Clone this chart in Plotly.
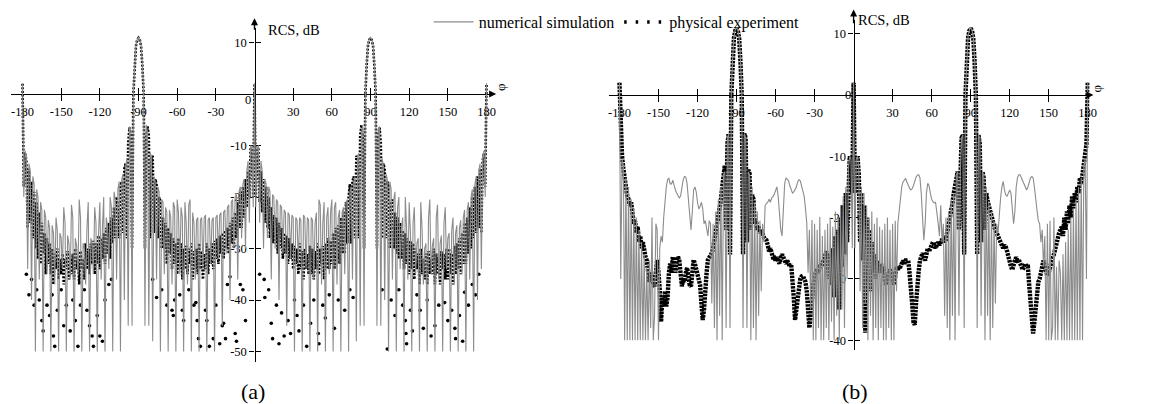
import plotly.graph_objects as go

W, H = 1154, 404

# ---------------------------------------------------------------- data
# azimuth grid, degrees (one sample per degree)
phi = list(range(-180, 181))

# (a) numerical simulation, dB
sim_a_db = [
    2.1, -20, -11, -12.5, -34, -13.5, -15, -40, -16, -17.5,           # -180
    -50, -18.5, -20, -36, -21, -22.5, -50, -22.5, -24, -35,           # -170
    -24.5, -26, -50, -25.5, -27, -37, -24, -26.5, -50, -27,           # -160
    -28, -34, -22, -25, -50, -27.5, -29, -36, -21.5, -24,             # -150
    -50, -28, -29.5, -35, -20.5, -24, -50, -29, -30, -37,             # -140
    -26, -21, -50, -28, -29, -35, -22, -25, -50, -27,                 # -130
    -21, -36, -26, -20, -50, -24, -26, -34, -20, -22,                 # -120
    -50, -19, -20.5, -36, -18.5, -17, -50, -16.5, -15.5, -40,         # -110
    -14, -12.5, -45, -6.3, -7, -45, 0.5, 6, 9.5, 10.6,                # -100
    11, 10.6, 9.5, 6, 0.5, -45, -6, -7.5, -45, -11.5,                 # -90
    -12, -48, -16, -17, -36, -18, -19, -50, -20.5, -21,               # -80
    -35, -22, -23, -50, -22.5, -24, -37, -21, -22, -50,               # -70
    -20.5, -23, -35, -22, -24, -50, -21, -25, -37, -21.5,             # -60
    -20.5, -50, -23, -25, -36, -24.5, -24, -50, -24.5, -24,           # -50
    -34, -24, -23.5, -50, -24.5, -24, -33, -24.5, -24, -50,           # -40
    -24, -23.5, -32, -23.5, -23, -45, -23, -22.5, -31, -22,           # -30
    -21.5, -40, -21, -20.5, -30, -20, -19.5, -36, -19, -18,           # -20
    -28, -17.5, -16.5, -30, -15, -13, -25, -10, -10.5, -22,           # -10
    2.1, -22, -10.5, -10, -25, -13, -15, -30, -16.5, -17.5,           # 0
    -28, -18, -19, -36, -19.5, -20, -30, -20.5, -21, -40,             # 10
    -21.5, -22, -31, -22.5, -23, -45, -23, -23.5, -32, -23.5,         # 20
    -24, -50, -24, -24.5, -33, -24, -24.5, -50, -23.5, -24,           # 30
    -34, -24, -24.5, -50, -24, -24.5, -36, -25, -23, -50,             # 40
    -20.5, -21.5, -37, -25, -21, -50, -24, -22, -35, -23,             # 50
    -20.5, -50, -22, -21, -37, -24, -22.5, -50, -23, -22,             # 60
    -35, -21, -20.5, -50, -19, -18, -36, -17, -16, -48,               # 70
    -12, -11.5, -45, -7.5, -6, -45, 0.5, 6, 9.5, 10.6,                # 80
    11, 10.6, 9.5, 6, 0.5, -45, -7, -6.3, -45, -12.5,                 # 90
    -14, -40, -15.5, -16.5, -50, -17, -18.5, -36, -20.5, -19,         # 100
    -50, -22, -20, -34, -26, -24, -50, -20, -26, -36,                 # 110
    -21, -27, -50, -25, -22, -35, -29, -28, -50, -21,                 # 120
    -26, -37, -30, -29, -50, -24, -20.5, -35, -29.5, -28,             # 130
    -50, -24, -21.5, -36, -29, -27.5, -50, -25, -22, -34,             # 140
    -28, -27, -50, -26.5, -24, -37, -27, -25.5, -50, -26,             # 150
    -24.5, -35, -24, -22.5, -50, -22.5, -21, -36, -20, -18.5,         # 160
    -50, -17.5, -16, -40, -15, -13.5, -34, -12.5, -11, -20,           # 170
    2.1,                                                              # 180
]

# (a) physical experiment, dB (main trace of the measured series)
exp_a_db = [
    2.0, -18, -11.5, -13, -26, -14.5, -25, -17, -28, -19,             # -180
    -30, -21, -32, -23, -33, -25, -31, -27, -35, -28,                 # -170
    -33, -29, -35, -30, -37, -31, -34, -30, -36, -32,                 # -160
    -35, -31, -37, -32, -34, -30.5, -36, -32, -35, -31,               # -150
    -36, -30, -34, -32, -37, -30.5, -34, -32, -36, -29,               # -140
    -34, -30, -35, -29, -33, -28.5, -35, -29, -33, -27.5,             # -130
    -34, -28, -32, -27, -33, -26, -31, -25, -32, -24,                 # -120
    -29, -22, -28, -20, -22, -28, -18, -17, -27, -14.5,               # -110
    -13.5, -28, -9.5, -6.5, -8.5, -30, 0, 5.5, 9.3, 10.5,             # -100
    10.9, 10.5, 9.3, 5.5, 0, -30, -8.5, -6.3, -8, -28,                # -90
    -12.5, -12, -27, -16.5, -17.5, -28, -20, -21, -30, -24,           # -80
    -30, -25, -33, -26, -31, -27, -34, -28, -33, -29,                 # -70
    -35, -28, -34, -29, -36, -30, -34, -29.5, -35, -30,               # -60
    -33, -29, -36, -30.5, -34, -30, -35, -29, -34, -30.5,             # -50
    -36, -31, -34, -29, -35, -30, -33, -29, -34, -28.5,               # -40
    -32, -28, -33, -27.5, -31, -27, -32, -26.5, -30, -26,             # -30
    -31, -25, -29, -24, -30, -23, -28, -21, -26, -19,                 # -20
    -26, -18, -24, -16.5, -22, -15, -20, -10.5, -11, -20,             # -10
    2.0, -20, -11, -10.5, -21, -15, -23, -16.5, -25, -18,             # 0
    -26, -20, -28, -22, -29, -23.5, -29, -24, -31, -25,               # 10
    -30, -26, -32, -27, -31, -27.5, -33, -28, -32, -29,               # 20
    -34, -29.5, -33, -30, -35, -29, -34, -30.5, -36, -30,             # 30
    -34, -31, -35, -29.5, -35, -30, -36, -30.5, -34, -29,             # 40
    -35, -30, -33, -29.5, -36, -29, -34, -28, -34, -28.5,             # 50
    -33, -27, -34, -26, -32, -25.5, -33, -24, -31, -23,               # 60
    -31, -21, -29, -20, -17.5, -29, -17, -16, -28, -12,               # 70
    -12.5, -28, -8, -6, -8.5, -30, 0, 5.5, 9.3, 10.5,                 # 80
    10.9, 10.5, 9.3, 5.5, 0, -30, -8.5, -6.5, -9.5, -28,              # 90
    -13.5, -14.5, -28, -17, -18, -30, -21, -20.5, -30, -23,           # 100
    -31, -24, -32, -25, -32, -26.5, -34, -27, -33, -28,               # 110
    -35, -28.5, -34, -29, -36, -30, -34, -31, -37, -30,               # 120
    -35, -32, -36, -31, -37, -30.5, -35, -32, -35, -30,               # 130
    -37, -31, -35, -32, -37, -30.5, -34, -31, -36, -30,               # 140
    -36, -30, -35, -31, -37, -29.5, -35, -29, -34, -28,               # 150
    -35, -27, -33, -25, -33, -24, -31, -22, -30, -20,                 # 160
    -28, -18, -27, -16, -26, -14.5, -27, -13, -11.5, -18,             # 170
    2.0,                                                              # 180
]

# (a) physical experiment, scattered low readings
exp_a_low_phi = [
    -177, -175, -173, -171, -169, -167, -165, -164, -161, -159, -157,
    -156, -155, -153, -150, -148, -146, -143, -141, -139, -137, -135,
    -132, -130, -128, -126, -125, -122, -120, -118, -116, -113, -111,
    -79, -76, -72, -68, -64, -63, -62, -58, -56, -55, -51, -47, -45.5,
    -44.5, -43.5, -42, -38, -37, -35, -32, -30, -27, -25, -24, -22.5,
    -21, -19, -15, -14, -11, -9, -7,
    4, 7.5, 8, 11, 13, 14, 17, 19, 21, 23, 26, 28, 31, 33, 34.5, 38,
    40.5, 43.5, 46, 49.5, 50, 53, 55, 58, 62, 65, 70, 74, 76.5,
    99, 103, 106, 109, 112, 115, 117, 117.5, 118, 121, 122.5, 126,
    128.5, 131, 134, 137, 140, 143, 147.5, 150, 153, 155.5, 156, 159,
    161.5, 163, 166, 169, 171.5, 174,
]
exp_a_low_db = [
    -35, -39, -36, -41, -38, -40, -44, -46, -41, -43, -39,
    -47, -49, -42, -38, -45, -41, -46, -40, -44, -49, -41,
    -38, -42, -45, -47, -49, -43, -47, -48, -40, -37, -36,
    -36, -39.5, -38, -41, -42, -43, -40, -39, -42, -44, -38, -41, -40.5,
    -44, -47.5, -49, -42, -44, -49, -47.5, -41, -48.5, -45, -44.5, -47.5,
    -37, -35.5, -46.5, -48, -37, -38, -44,
    -35, -36, -39.5, -38, -44.5, -47.5, -41, -48.5, -42.5, -47, -44, -46.5, -40, -43, -46, -41,
    -49, -44.5, -40, -46.5, -48.5, -41, -43.5, -39, -45.5, -40, -42, -38, -39.5,
    -38, -49.5, -40, -43, -38, -41, -44, -46.5, -48.5, -42, -46, -39,
    -42, -45.5, -40, -47, -45, -41, -40.5, -44, -42, -45.5, -47.5, -43,
    -48, -38.5, -41, -37, -39, -35,
]

# (b) numerical simulation, dB
sim_b_db = [
    2.1, -30, -10.5, -11.5, -40, -13.5, -40, -15, -40, -17,           # -180
    -40, -18.5, -40, -20, -40, -22, -40, -24, -40, -26,               # -170
    -40, -28, -40, -27, -38, -20, -40, -36, -21, -22,                 # -160
    -40, -25, -23, -24, -20, -17, -15, -13.8, -13.6, -14.5,           # -150
    -14.5, -13.9, -14.8, -15.5, -16, -16.5, -16.8, -16.5, -15, -13.8, # -140
    -13.3, -13.4, -14.5, -17.5, -20.5, -22, -19, -15.5, -15, -15.8,   # -130
    -17.5, -18.6, -18.2, -17.5, -18.5, -21, -20.5, -22, -23, -20.5,   # -120
    -21, -34, -21, -38, -19, -40, -17, -36, -15, -40,                 # -110
    -13, -12.5, -38, -7, -6.3, -38, 0.5, 6, 9.5, 10.6,                # -100
    11, 10.6, 9.5, 6, 0.5, -38, -6.3, -7, -38, -12.5,                 # -90
    -13, -40, -15, -38, -17.5, -40, -19, -36, -20.5, -32,             # -80
    -21, -24, -18, -17.7, -17.5, -17, -17.5, -16.8, -16.6, -16.2,     # -70
    -15.5, -15, -16.5, -19, -22, -23, -18, -14.5, -13.5, -13.8,       # -60
    -14, -14.8, -15.5, -16, -15.8, -15.5, -15, -14.2, -13.8, -14,     # -50
    -15, -15.5, -16.5, -18.5, -20.9, -29, -22, -35, -20.4, -40,       # -40
    -21, -40, -22, -38, -19.9, -40, -23, -40, -22, -38,               # -30
    -21, -40, -20, -37, -21.5, -40, -19, -36, -20, -40,               # -20
    -18, -35, -16.5, -38, -15, -30, -12, -10, -10.5, -25,             # -10
    2.1, -25, -10.5, -10, -12, -32, -15, -38, -16, -34,               # 0
    -18, -40, -20, -36, -19, -40, -21, -38, -20, -40,                 # 10
    -21.5, -38, -22, -40, -21, -40, -20, -38, -22, -40,               # 20
    -21, -40, -20.5, -32, -21, -19, -16.5, -15, -14.2, -13.8,         # 30
    -13.6, -14.2, -14.8, -15.2, -15.5, -15.3, -14.8, -14, -13.4, -13.1, # 40
    -13, -13.5, -16, -20, -23.7, -21, -16, -14.4, -14.8, -16,         # 50
    -17, -17.4, -17.6, -17.5, -19, -20.9, -23, -18, -24, -21,         # 60
    -36, -20, -38, -19, -40, -17, -36, -16, -40, -13,                 # 70
    -12.5, -36, -13, -7, -6.5, -38, 0.5, 6, 9.5, 10.6,                # 80
    11, 10.6, 9.5, 6, 0.5, -38, -6.5, -7, -36, -12.5,                 # 90
    -13, -40, -15, -36, -17.3, -40, -19, -38, -20.5, -34,             # 100
    -21, -22.5, -19, -16.8, -15, -14.1, -15.5, -16.3, -16.5, -16,     # 110
    -15.5, -16, -18, -21, -19, -15, -13.5, -13, -13, -13.5,           # 120
    -13.9, -14.5, -15.2, -15.5, -15, -14, -13.5, -13.3, -13.5, -15,   # 130
    -16.5, -18.8, -20.5, -21, -24, -22, -28, -23, -40, -21,           # 140
    -40, -20.5, -40, -38, -20, -40, -28, -40, -27, -29,               # 150
    -40, -26, -40, -24, -40, -22, -40, -20, -40, -18.5,               # 160
    -40, -17, -40, -15, -40, -13.5, -40, -11.5, -10.5, -30,           # 170
    2.1,                                                              # 180
]

# (b) physical experiment, dB
exp_b_db = [
    2.0, -8, -10, -12, -14, -15.5, -16.5, -17, -18, -17.5,            # -180
    -19, -21, -20.5, -22.5, -21.5, -24, -23, -25, -24, -26,           # -170
    -26.4, -27, -30, -30.5, -29, -29.6, -31, -31.2, -29, -26.9,       # -160
    -29, -31.8, -37, -33, -34.5, -32, -34.5, -33, -29, -27.5,         # -150
    -29, -26.4, -27.5, -29, -27, -26.4, -27, -30, -31.2, -30,         # -140
    -30.5, -29, -28.2, -29.5, -31, -31.2, -29, -26.9, -27.5, -28.5,   # -130
    -29, -30, -31, -34, -36.7, -35, -31.2, -29, -26.9, -26.5,         # -120
    -26, -25.8, -25, -23.7, -22.5, -21.5, -20, -18.5, -17.1, -15,     # -110
    -13.3, -11.5, -22, -7.9, -6.3, -26, 0, 5.5, 9.3, 10.5,            # -100
    10.9, 10.5, 9.3, 5.5, 0, -26, -6.3, -7, -24, -12.2,               # -90
    -12.8, -22, -16.3, -17, -21, -20.5, -22, -21.5, -22.5, -22,       # -80
    -23, -23.2, -23.5, -23.7, -24.5, -25.5, -25, -26, -26.5, -26.5,   # -70
    -27, -26.5, -27, -27.5, -26.5, -26, -26.5, -27, -27.5, -27,       # -60
    -27.5, -28, -27.6, -29.5, -33, -36.7, -35, -33.5, -31, -30,       # -50
    -29.6, -29.5, -30, -30.5, -32, -36, -38, -36, -32.9, -31,         # -40
    -29.5, -29, -28.5, -29, -28, -28, -27.5, -27, -26.5, -25.5,       # -30
    -27, -30, -26, -31, -25, -33, -23, -30, -22, -35,                 # -20
    -20, -28, -18, -26, -16, -24, -13, -10, -10.5, -16,               # -10
    2.0, -16, -10.5, -10, -13, -24, -16, -27, -18, -38.8,             # 0
    -20, -30, -22, -32, -24, -29, -26, -30, -27, -29,                 # 10
    -28, -27.5, -29, -28, -30, -31, -30, -29, -28.5, -29,             # 20
    -30, -31, -29.5, -28, -28.5, -28, -28, -27.5, -27, -27.5,         # 30
    -27, -27, -27, -29, -31, -34, -37, -37.5, -34, -30,               # 40
    -28.8, -27, -26, -25.8, -26.5, -27, -26, -25, -25.5, -25,         # 50
    -24.7, -24, -24.5, -25, -24.5, -24, -24.5, -24, -23.5, -24,       # 60
    -23.5, -23.5, -22.5, -21.5, -20, -19, -17.7, -16, -14.5, -13,     # 70
    -12.5, -22, -13, -7, -6.5, -26, 0, 5.5, 9.3, 10.5,                # 80
    10.9, 10.5, 9.3, 5.5, 0, -26, -6.5, -8, -24, -12.5,               # 90
    -13.5, -22, -16, -17.3, -18, -19, -19.5, -20.5, -21.5, -22,       # 100
    -22.5, -23, -23.5, -23.7, -24.5, -25, -24.5, -24.8, -25.5, -26.5, # 110
    -27.5, -28, -28.5, -27.5, -27, -26.5, -27, -26.9, -27.5, -28,     # 120
    -28.5, -28, -27.5, -28, -28, -31, -34, -37, -38.9, -37,           # 130
    -34, -32, -30.5, -30, -29, -27.5, -27, -28, -29, -29.5,           # 140
    -29, -28, -27.5, -26.5, -26, -25, -24, -23.5, -22.5, -22,         # 150
    -21.5, -23, -20, -22, -19, -21, -18, -20, -16.5, -18.5,           # 160
    -16, -17.5, -15, -16, -13.5, -14.5, -12.5, -12, -10, -8,          # 170
    2.0,                                                              # 180
]

x_ticks = [-180, -150, -120, -90, -60, -30, 30, 60, 90, 120, 150, 180]
x_tick_text = ["-180", "-150", "-120", "-90", "-60", "-30",
               "30", "60", "90", "120", "150", "180"]
y_ticks_a = [10, -10, -20, -30, -40, -50]
y_ticks_b = [10, -10, -20, -30, -40]

for arr in (sim_a_db, exp_a_db, sim_b_db, exp_b_db):
    assert len(arr) == len(phi), len(arr)
assert len(exp_a_low_phi) == len(exp_a_low_db)

# ---------------------------------------------------------------- styling
SERIF = "Liberation Serif"
TICK_FONT = dict(family=SERIF, size=12.5, color="black")
SIM_COLOR = "#8c8c8c"
INK = "black"


def geometry(x0, x_lo, x_hi, deg_px, y0, y_lo, y_hi, db_px):
    """Pixel layout of one panel -> plotly domains / ranges / axis positions."""
    return dict(
        xdom=[x_lo / W, x_hi / W],
        xrng=[(x_lo - x0) / deg_px, (x_hi - x0) / deg_px],
        ydom=[1 - y_lo / H, 1 - y_hi / H],
        yrng=[(y0 - y_lo) / db_px, (y0 - y_hi) / db_px],
        xpos=1 - y0 / H,
        ypos=x0 / W,
        x0=x0, y0=y0, deg_px=deg_px, db_px=db_px,
    )


ga = geometry(255.5, 10, 495, 1.299, 94, 361.7, 28, 5.15)
gb = geometry(859.3, 613, 1097, 1.311, 95, 350, 20, 6.13)


def x_axis(g, inside=False, over=None):
    d = dict(range=g["xrng"], anchor="free", position=g["xpos"],
             ticks="inside" if inside else "outside", ticklen=6, tickwidth=1.3,
             tickcolor=INK, tickmode="array", tickvals=x_ticks,
             showgrid=False, zeroline=False, layer="below traces")
    if over:
        d.update(overlaying=over, showticklabels=False, showline=False)
    else:
        d.update(domain=g["xdom"], ticktext=x_tick_text, tickfont=TICK_FONT,
                 showline=True, linecolor=INK, linewidth=1.4)
    return d


def y_axis(g, ticks, inside=False, over=None):
    d = dict(range=g["yrng"], anchor="free", position=g["ypos"],
             ticks="inside" if inside else "outside", ticklen=5, tickwidth=1.3,
             tickcolor=INK, tickmode="array", tickvals=ticks,
             showgrid=False, zeroline=False, layer="below traces")
    if over:
        d.update(overlaying=over, showticklabels=False, showline=False)
    else:
        d.update(domain=g["ydom"], ticktext=[str(t) for t in ticks],
                 tickfont=TICK_FONT, showline=True, linecolor=INK, linewidth=1.4)
    return d


fig = go.Figure()

# panel (a)
fig.add_trace(go.Scatter(x=phi, y=exp_a_db, mode="lines", xaxis="x", yaxis="y",
                         line=dict(color=INK, width=2.6, dash="2px,1.6px"),
                         showlegend=False, hoverinfo="skip"))
fig.add_trace(go.Scatter(x=exp_a_low_phi, y=exp_a_low_db, mode="markers",
                         xaxis="x", yaxis="y", marker=dict(color=INK, size=3.6),
                         showlegend=False, hoverinfo="skip"))
fig.add_trace(go.Scatter(x=phi, y=sim_a_db, mode="lines", xaxis="x", yaxis="y",
                         line=dict(color=SIM_COLOR, width=1.1),
                         name="numerical simulation", legendrank=1))

# panel (b)
fig.add_trace(go.Scatter(x=phi, y=exp_b_db, mode="lines", xaxis="x2", yaxis="y2",
                         line=dict(color=INK, width=4.4, dash="2.5px,1px"),
                         showlegend=False, hoverinfo="skip"))
fig.add_trace(go.Scatter(x=phi, y=sim_b_db, mode="lines", xaxis="x2", yaxis="y2",
                         line=dict(color=SIM_COLOR, width=1.1),
                         showlegend=False, hoverinfo="skip"))

# legend entry for the measured series
fig.add_trace(go.Scatter(x=[None], y=[None], mode="lines", xaxis="x", yaxis="y",
                         line=dict(color=INK, width=3.5, dash="2.5px,9px"),
                         name="physical experiment", legendrank=2))

# empty traces that bring up the overlay axes carrying the inner tick halves
for xa, ya in (("x3", "y"), ("x", "y3"), ("x4", "y2"), ("x2", "y4")):
    fig.add_trace(go.Scatter(x=[None], y=[None], xaxis=xa, yaxis=ya,
                             showlegend=False, hoverinfo="skip"))

fig.update_layout(
    width=W, height=H, margin=dict(l=0, r=0, t=0, b=0),
    paper_bgcolor="white", plot_bgcolor="rgba(0,0,0,0)",
    xaxis=x_axis(ga), yaxis=y_axis(ga, y_ticks_a),
    xaxis3=x_axis(ga, inside=True, over="x"), yaxis3=y_axis(ga, y_ticks_a, inside=True, over="y"),
    xaxis2=x_axis(gb), yaxis2=y_axis(gb, y_ticks_b),
    xaxis4=x_axis(gb, inside=True, over="x2"), yaxis4=y_axis(gb, y_ticks_b, inside=True, over="y2"),
    showlegend=True,
    legend=dict(orientation="h", x=431 / W, xanchor="left", y=1 - 22 / H, yanchor="middle",
                font=dict(family=SERIF, size=16, color=INK), bgcolor="rgba(0,0,0,0)",
                borderwidth=0, itemwidth=40),
)

annotations = []
for g, xr, yr in ((ga, "x", "y"), (gb, "x2", "y2")):
    # arrow heads at the positive ends of both axes
    x_tip = (g["xdom"][1] * W + 4 - g["x0"]) / g["deg_px"]
    annotations.append(dict(x=x_tip, y=0, ax=x_tip - 6, ay=0, xref=xr, yref=yr,
                            axref=xr, ayref=yr, showarrow=True, arrowhead=2,
                            arrowsize=1, arrowwidth=1.4, arrowcolor=INK, text=""))
    y_tip = g["yrng"][1] + 5 / g["db_px"] + 0.9
    annotations.append(dict(x=0, y=y_tip, ax=0, ay=y_tip - 2.5, xref=xr, yref=yr,
                            axref=xr, ayref=yr, showarrow=True, arrowhead=2,
                            arrowsize=1, arrowwidth=1.4, arrowcolor=INK, text=""))

# origin labels
annotations.append(dict(x=-1.0, y=-1.2, xref="x", yref="y", text="0", showarrow=False,
                        xanchor="right", yanchor="middle", font=TICK_FONT))
annotations.append(dict(x=-0.6, y=0, xref="x2", yref="y2", text="0", showarrow=False,
                        xanchor="right", yanchor="middle", font=TICK_FONT))

# axis titles
annotations.append(dict(x=267 / W, y=1 - 30 / H, xref="paper", yref="paper",
                        text="RCS, dB", showarrow=False, xanchor="left", yanchor="middle",
                        font=dict(family=SERIF, size=14.5, color=INK)))
annotations.append(dict(x=862 / W, y=1 - 20 / H, xref="paper", yref="paper",
                        text="RCS, dB", showarrow=False, xanchor="left", yanchor="middle",
                        font=dict(family=SERIF, size=14.5, color=INK)))
annotations.append(dict(x=504 / W, y=1 - 87 / H, xref="paper", yref="paper",
                        text="φ", textangle=-90, showarrow=False, xanchor="center",
                        yanchor="middle", font=dict(family=SERIF, size=13, color=INK)))
annotations.append(dict(x=1105 / W, y=1 - 88 / H, xref="paper", yref="paper",
                        text="φ", textangle=-90, showarrow=False, xanchor="center",
                        yanchor="middle", font=dict(family=SERIF, size=13, color=INK)))

# panel captions
for cx, cap in ((254, "(a)"), (861, "(b)")):
    annotations.append(dict(x=cx / W, y=1 - 391.5 / H, xref="paper", yref="paper",
                            text=cap, showarrow=False, xanchor="center", yanchor="middle",
                            font=dict(family=SERIF, size=22, color=INK)))

fig.update_layout(annotations=annotations)

fig.write_html("out.html", config={"displayModeBar": False})
